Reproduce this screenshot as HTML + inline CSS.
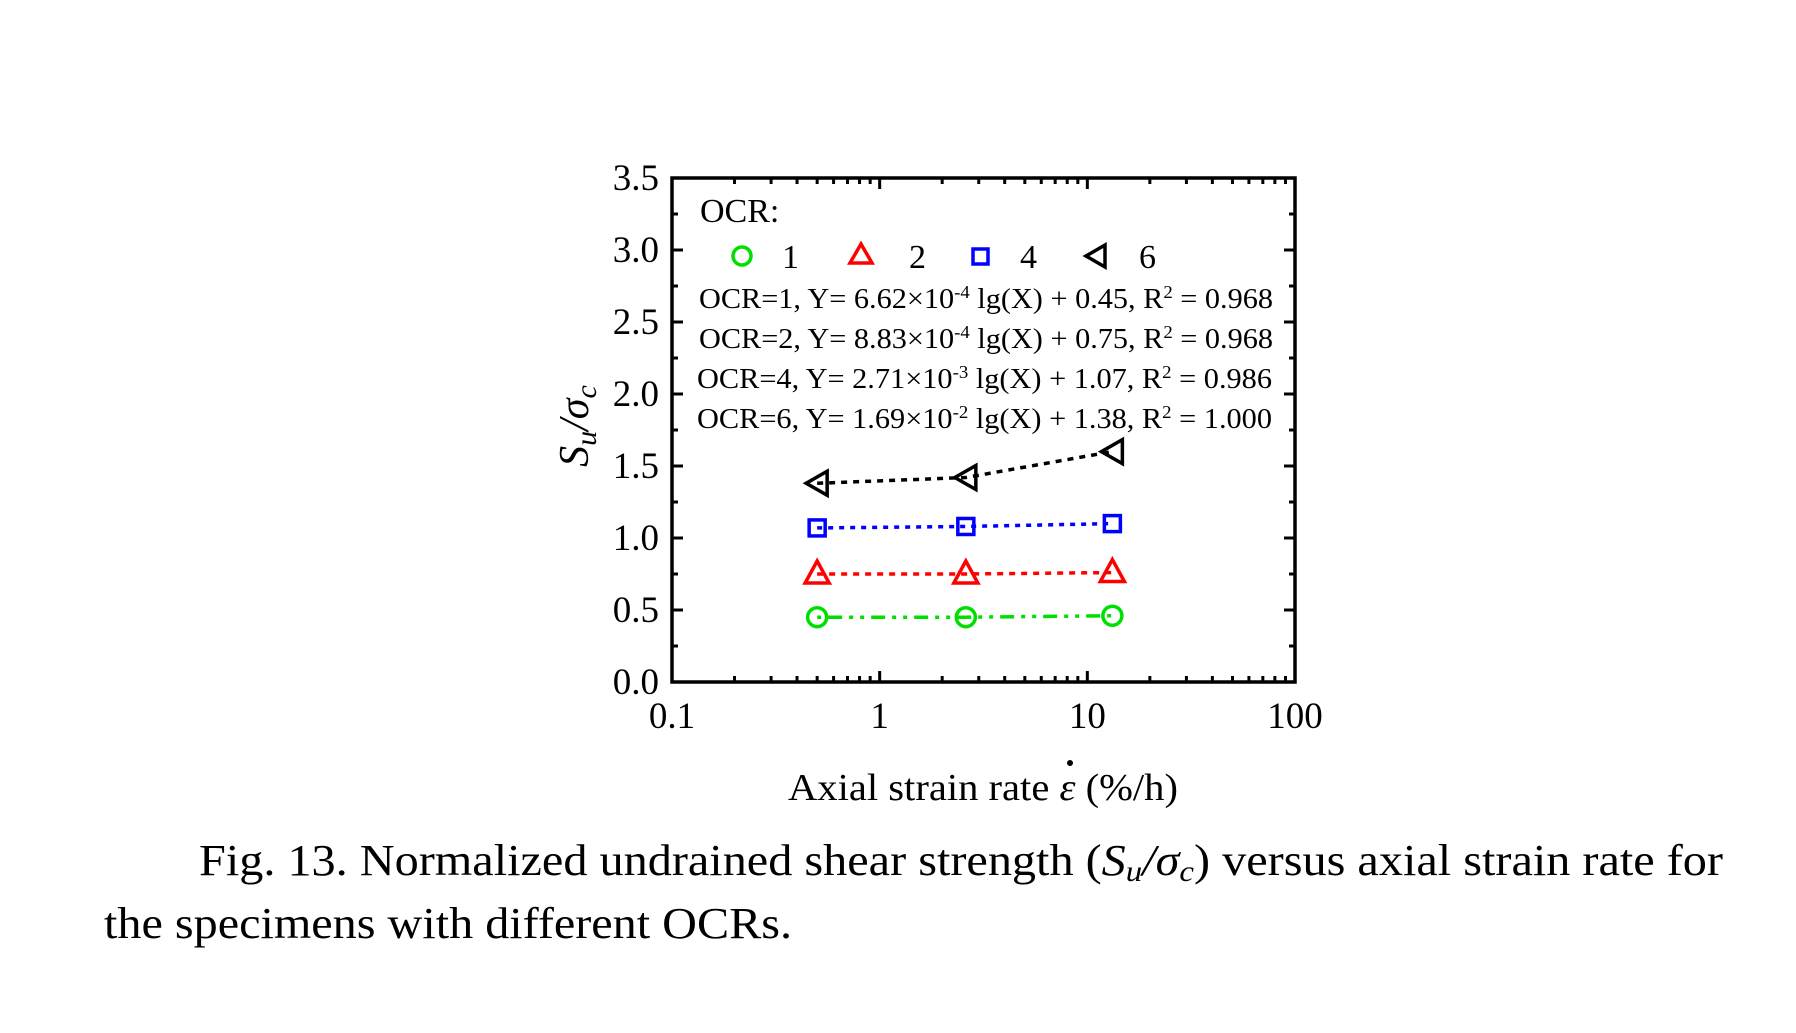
<!DOCTYPE html>
<html><head><meta charset="utf-8"><style>
html,body{margin:0;padding:0;background:#fff;}
svg{display:block;}
text{font-family:"Liberation Serif",serif;}
</style></head><body>
<svg id="chart" width="1796" height="1033" viewBox="0 0 1796 1033" xmlns="http://www.w3.org/2000/svg">
<g id="axes"></g>
<g id="marks"></g>
<g id="legend">
  <text x="700" y="222" font-size="34">OCR:</text>
  <circle cx="742" cy="256" r="9" fill="none" stroke="#00e000" stroke-width="3.5"/>
  <text x="782" y="268" font-size="34">1</text>
  <polygon points="861,244 850,263 872,263" fill="none" stroke="#ff0000" stroke-width="3.5"/>
  <text x="909" y="268" font-size="34">2</text>
  <rect x="973" y="249" width="15" height="15" fill="none" stroke="#0000ff" stroke-width="3.5"/>
  <text x="1020" y="268" font-size="34">4</text>
  <polygon points="1086,256 1105,245 1105,267" fill="none" stroke="#000" stroke-width="3.5"/>
  <text x="1139" y="268" font-size="34">6</text>
  <text x="699" y="308" font-size="29" textLength="574" lengthAdjust="spacingAndGlyphs">OCR=1, Y= 6.62×10<tspan dy="-10" font-size="18">-4</tspan><tspan dy="10"> lg(X) + 0.45, R</tspan><tspan dy="-10" font-size="18">2</tspan><tspan dy="10"> = 0.968</tspan></text>
  <text x="699" y="348" font-size="29" textLength="574" lengthAdjust="spacingAndGlyphs">OCR=2, Y= 8.83×10<tspan dy="-10" font-size="18">-4</tspan><tspan dy="10"> lg(X) + 0.75, R</tspan><tspan dy="-10" font-size="18">2</tspan><tspan dy="10"> = 0.968</tspan></text>
  <text x="697" y="388" font-size="29" textLength="575" lengthAdjust="spacingAndGlyphs">OCR=4, Y= 2.71×10<tspan dy="-10" font-size="18">-3</tspan><tspan dy="10"> lg(X) + 1.07, R</tspan><tspan dy="-10" font-size="18">2</tspan><tspan dy="10"> = 0.986</tspan></text>
  <text x="697" y="428" font-size="29" textLength="575" lengthAdjust="spacingAndGlyphs">OCR=6, Y= 1.69×10<tspan dy="-10" font-size="18">-2</tspan><tspan dy="10"> lg(X) + 1.38, R</tspan><tspan dy="-10" font-size="18">2</tspan><tspan dy="10"> = 1.000</tspan></text>
</g>
<text x="788" y="800" font-size="38" textLength="390" lengthAdjust="spacingAndGlyphs">Axial strain rate <tspan font-style="italic">ε</tspan> (%/h)</text>
<circle cx="1070" cy="763" r="3" fill="#000"/>
<text transform="translate(588,426) rotate(-90)" text-anchor="middle" font-size="42" font-style="italic">S<tspan font-size="30" dy="8">u</tspan><tspan dy="-8">/σ</tspan><tspan font-size="30" dy="8">c</tspan></text>
<text x="199" y="875" font-size="44" textLength="1524" lengthAdjust="spacingAndGlyphs">Fig. 13. Normalized undrained shear strength (<tspan font-style="italic">S<tspan font-size="30" dy="6">u</tspan><tspan dy="-6">/σ</tspan><tspan font-size="30" dy="6">c</tspan></tspan><tspan dy="-6">) versus axial strain rate for</tspan></text>
<text x="104" y="938" font-size="44" textLength="688" lengthAdjust="spacingAndGlyphs">the specimens with different OCRs.</text>
</svg>
<script>
const xCats=[0.5,2.6,13.2];
const ocr1=[0.45,0.45,0.46];
const ocr2=[0.75,0.75,0.76];
const ocr4=[1.07,1.08,1.10];
const ocr6=[1.38,1.42,1.60];
const yTicks=["0.0","0.5","1.0","1.5","2.0","2.5","3.0","3.5"];
const xTicks=["0.1","1","10","100"];
const L=672,R=1295,T=178,B=682;
const NS="http://www.w3.org/2000/svg";
function xs(v){return L+(Math.log10(v)+1)/3*(R-L);}
function ys(v){return B-v/3.5*(B-T);}
function mk(tag,attrs,parent){const e=document.createElementNS(NS,tag);for(const k in attrs)e.setAttribute(k,attrs[k]);parent.appendChild(e);return e;}
const ax=document.getElementById('axes');
const frame=mk('rect',{x:L,y:T,width:R-L,height:B-T,fill:'none',stroke:'#000','stroke-width':3.5},ax);


yTicks.forEach((t,i)=>{const v=i*0.5,y=ys(v);
  mk('line',{x1:L,x2:L+11,y1:y,y2:y,stroke:'#000','stroke-width':3},ax);
  mk('line',{x1:R,x2:R-11,y1:y,y2:y,stroke:'#000','stroke-width':3},ax);
  if(i<7){const ym=ys(v+0.25);
    mk('line',{x1:L,x2:L+6,y1:ym,y2:ym,stroke:'#000','stroke-width':3},ax);
    mk('line',{x1:R,x2:R-6,y1:ym,y2:ym,stroke:'#000','stroke-width':3},ax);}
  const tx=mk('text',{x:659,y:y+12,'font-size':37,'text-anchor':'end'},ax);tx.textContent=t;
  
  
});
xTicks.forEach((t,i)=>{const v=parseFloat(t),x=xs(v);
  mk('line',{x1:x,x2:x,y1:B,y2:B-11,stroke:'#000','stroke-width':3},ax);
  mk('line',{x1:x,x2:x,y1:T,y2:T+11,stroke:'#000','stroke-width':3},ax);
  if(i<3){for(let k=2;k<10;k++){const xm=xs(v*k);
    mk('line',{x1:xm,x2:xm,y1:B,y2:B-6,stroke:'#000','stroke-width':3},ax);
    mk('line',{x1:xm,x2:xm,y1:T,y2:T+6,stroke:'#000','stroke-width':3},ax);}}
  const tx=mk('text',{x:x,y:728,'font-size':37,'text-anchor':'middle'},ax);tx.textContent=t;
  
  
});
const mg=document.getElementById('marks');
const series=[[ocr1,'#00e000','4 7 14 7 4 7','circle','ocr1'],[ocr2,'#ff0000','6 6','tri','ocr2'],[ocr4,'#0000ff','5 6','sq','ocr4'],[ocr6,'#000','6 6','ltri','ocr6']];
series.forEach(([vals,col,dash,shape,nm])=>{
  const pts=vals.map((v,i)=>xs(xCats[i])+','+ys(v)).join(' ');
  const pl=mk('polyline',{points:pts,fill:'none',stroke:col,'stroke-width':3.5,'stroke-dasharray':dash},mg);
  
  
  vals.forEach((v,i)=>{const x=xs(xCats[i]),y=ys(v);let e;
    if(shape==='circle')e=mk('circle',{cx:x,cy:y,r:9.5,fill:'none',stroke:col,'stroke-width':3.5},mg);
    else if(shape==='tri')e=mk('polygon',{points:`${x},${y-13} ${x-12},${y+9} ${x+12},${y+9}`,fill:'none',stroke:col,'stroke-width':3.5},mg);
    else if(shape==='sq')e=mk('rect',{x:x-8,y:y-8,width:16,height:16,fill:'none',stroke:col,'stroke-width':3.5},mg);
    else e=mk('polygon',{points:`${x-11},${y} ${x+10},${y-12} ${x+10},${y+12}`,fill:'none',stroke:col,'stroke-width':3.5},mg);
    
    
  });
});
</script>
</body></html>
